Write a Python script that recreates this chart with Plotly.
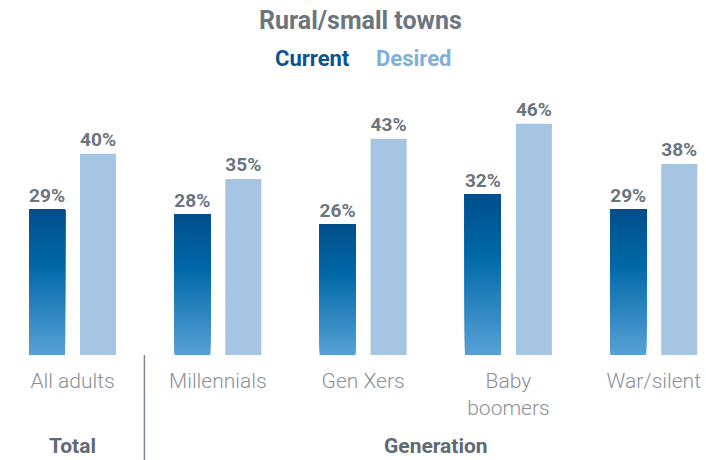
import plotly.graph_objects as go

categories = ["All adults", "Millennials", "Gen Xers", "Baby<br>boomers", "War/silent"]
current = [29, 28, 26, 32, 29]
desired = [40, 35, 43, 46, 38]
series_names = ["Current", "Desired"]
group_labels = ["Total", "Generation"]
chart_title = "Rural/small towns"

x = list(range(len(categories)))
W = 0.248
OFF_C = -0.2994
OFF_D = 0.0516
N = 60

GRAY = "#6b757e"
LIGHT = "#a5c5e2"

# gradient stops: position measured from bar bottom (0) to top (1)
stops = [(0.0, (88, 161, 214)), (0.62, (0, 104, 167)), (1.0, (0, 78, 139))]


def grad_color(t):
    for (t0, c0), (t1, c1) in zip(stops[:-1], stops[1:]):
        if t0 <= t <= t1:
            f = (t - t0) / (t1 - t0)
            c = [round(a + (b - a) * f) for a, b in zip(c0, c1)]
            return "rgb(%d,%d,%d)" % tuple(c)
    return "rgb(%d,%d,%d)" % stops[-1][1]


fig = go.Figure()

# gradient "Current" bars: successively shorter bars drawn on top
for k in range(N):
    t = k / N
    fig.add_trace(go.Bar(
        x=x, y=[v * (1 - t) for v in current], base=[v * t for v in current],
        width=W, offset=OFF_C, marker=dict(color=grad_color(t + 0.5 / N), line=dict(width=0)),
        hoverinfo="skip", showlegend=False,
    ))

LABEL_FONT = dict(family="Roboto", size=21, color=GRAY, weight="bold")

# Current labels (transparent full bar)
fig.add_trace(go.Bar(
    x=x, y=current, width=W, offset=OFF_C, name=series_names[0],
    marker=dict(color="rgba(0,0,0,0)", line=dict(width=0)),
    text=[f"{v}%" for v in current], textposition="outside", cliponaxis=False,
    textfont=LABEL_FONT, showlegend=False,
))

fig.add_trace(go.Bar(
    x=x, y=desired, width=W, offset=OFF_D, name=series_names[1],
    marker=dict(color=LIGHT, line=dict(width=0)),
    text=[f"{v}%" for v in desired], textposition="outside", cliponaxis=False,
    textfont=LABEL_FONT, showlegend=False,
))

PB = 355.0  # pixel y of the bar baseline


def py(pix):
    return (PB - pix) / PB


annotations = [
    dict(text=f"<b>{chart_title}</b>", x=0.511, y=py(20), xref="paper", yref="paper",
         yanchor="middle", showarrow=False, font=dict(family="Roboto", size=25, color=GRAY)),
    dict(text=f"<b>{series_names[0]}</b>", x=352 / 706, y=py(58), xref="paper", yref="paper",
         xanchor="right", yanchor="middle", showarrow=False,
         font=dict(family="Roboto", size=22, color="#0b5393")),
    dict(text=f"<b>{series_names[1]}</b>", x=374 / 706, y=py(58), xref="paper", yref="paper",
         xanchor="left", yanchor="middle", showarrow=False,
         font=dict(family="Roboto", size=22, color="#7fb0da")),
    dict(text=f"<b>{group_labels[0]}</b>", x=0, y=py(446), xref="x", yref="paper",
         yanchor="middle", showarrow=False, font=dict(family="Roboto", size=21, color="#5f6a74")),
    dict(text=f"<b>{group_labels[1]}</b>", x=2.5, y=py(446), xref="x", yref="paper",
         yanchor="middle", showarrow=False, font=dict(family="Roboto", size=21, color="#5f6a74")),
]

fig.update_layout(
    width=706, height=460,
    margin=dict(l=0, r=0, t=0, b=105),
    paper_bgcolor="white", plot_bgcolor="white",
    barmode="overlay",
    showlegend=False,
    annotations=annotations,
    shapes=[dict(type="line", xref="x", yref="paper", x0=0.495, x1=0.495,
                 y0=0, y1=py(460), line=dict(color="#7d868e", width=1.5))],
    xaxis=dict(range=[-0.499, 4.36], tickmode="array", tickvals=x, ticktext=categories,
               showgrid=False, zeroline=False, showline=False, ticks="",
               tickfont=dict(family="Roboto", size=21, color="#8a9198", weight=300),
               ticklabelstandoff=11),
    yaxis=dict(range=[0, 70.6], visible=False),
)

fig.write_html("out.html", config={"displayModeBar": False},
               post_script="document.body.style.margin='0';")
